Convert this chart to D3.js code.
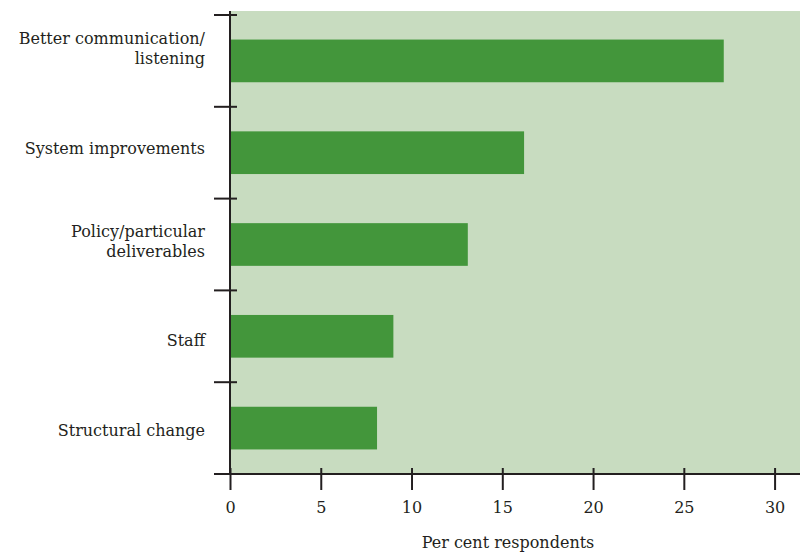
<!DOCTYPE html>
<html>
<head>
<meta charset="utf-8">
<script src="https://cdn.jsdelivr.net/npm/d3@7"></script>
<style>
  html, body { margin: 0; padding: 0; background: #fff; }
  svg text { font-family: "DejaVu Serif", serif; fill: #231f20; }
</style>
</head>
<body>
<svg id="chart" width="800" height="554"></svg>
<script>
// Responses grouped by theme, per cent of respondents
const categories = [
  ["Better communication/", "listening"],
  ["System improvements"],
  ["Policy/particular", "deliverables"],
  ["Staff"],
  ["Structural change"]
];
const values = [27.2, 16.2, 13.1, 9.0, 8.1];
const xTicks = [0, 5, 10, 15, 20, 25, 30];
const xTitle = "Per cent respondents";

const svg = d3.select("#chart");
const plotLeft = 230, plotRight = 800, plotTop = 15, plotBottom = 474;
const ink = "#231f20";

const x = d3.scaleLinear().domain([0, 31.4]).range([plotLeft, plotRight]);
const y = d3.scaleBand().domain(d3.range(values.length)).range([plotTop, plotBottom])
  .paddingInner(0.535).paddingOuter(0.2675);

// plot background
svg.append("rect")
  .attr("x", plotLeft).attr("y", 11)
  .attr("width", plotRight - plotLeft).attr("height", plotBottom - 11)
  .attr("fill", "#c8dcc0");

// bars
svg.append("g").selectAll("rect").data(values).join("rect")
  .attr("x", x(0))
  .attr("y", (d, i) => y(i))
  .attr("width", d => x(d) - x(0))
  .attr("height", y.bandwidth())
  .attr("fill", "#43963b");

// category boundaries on the y axis
const yEdges = d3.range(values.length + 1).map(i => plotTop + i * y.step());
svg.append("g").selectAll("line").data(yEdges).join("line")
  .attr("x1", plotLeft - 16).attr("x2", plotLeft + 7)
  .attr("y1", d => d).attr("y2", d => d)
  .attr("stroke", ink).attr("stroke-width", 2);

// y axis line
svg.append("line")
  .attr("x1", plotLeft).attr("x2", plotLeft)
  .attr("y1", 11).attr("y2", plotBottom)
  .attr("stroke", ink).attr("stroke-width", 2);

// x axis
const xAxis = svg.append("g").attr("transform", `translate(0,${plotBottom})`)
  .call(d3.axisBottom(x).tickValues(xTicks).tickSize(16).tickPadding(12).tickSizeOuter(0));
xAxis.select(".domain").remove();
xAxis.selectAll(".tick line").attr("y1", -6).attr("stroke", ink).attr("stroke-width", 2);
xAxis.selectAll(".tick text").attr("font-size", 16).attr("fill", ink)
  .attr("font-family", "DejaVu Serif, serif");
svg.append("line")
  .attr("x1", plotLeft - 16).attr("x2", plotRight)
  .attr("y1", plotBottom).attr("y2", plotBottom)
  .attr("stroke", ink).attr("stroke-width", 2);

// category labels, right-aligned beside their bars (small per-row vertical nudges)
const labelNudge = [-13, -4.5, -4, 4, 2];
const lineHeight = 20;
const labels = svg.append("g").selectAll("text").data(categories).join("text")
  .attr("text-anchor", "end")
  .attr("font-size", 16)
  .attr("x", 205)
  .attr("y", (d, i) => y(i) + y.bandwidth() / 2 + 6 + labelNudge[i]);
labels.each(function(lines) {
  const t = d3.select(this);
  const start = -((lines.length - 1) * lineHeight) / 2;
  lines.forEach((s, k) => {
    t.append("tspan").attr("x", 205).attr("dy", k === 0 ? start : lineHeight).text(s);
  });
});

// axis title
svg.append("text")
  .attr("x", 508).attr("y", 548)
  .attr("text-anchor", "middle")
  .attr("font-size", 16)
  .text(xTitle);
</script>
</body>
</html>
